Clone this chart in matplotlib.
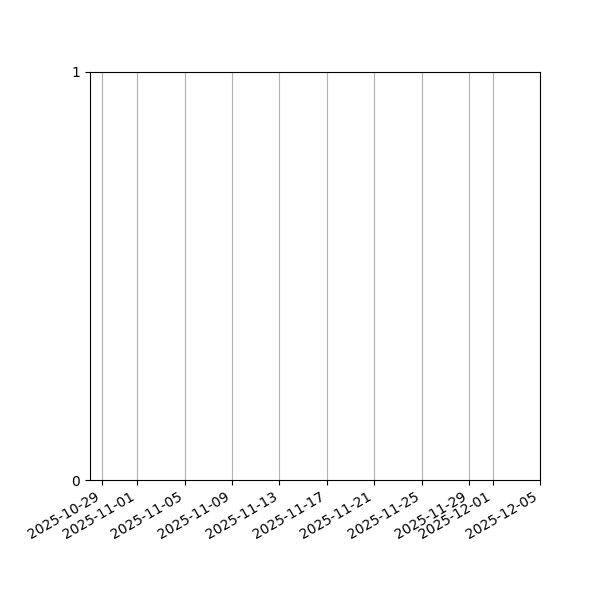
import matplotlib
matplotlib.use("Agg")
import matplotlib.pyplot as plt
import matplotlib.dates as mdates
import numpy as np
from datetime import datetime

# Data
x_start = "2025-10-28"
x_end = "2025-12-05"
tick_dates = ["2025-10-29", "2025-11-01", "2025-11-05", "2025-11-09",
              "2025-11-13", "2025-11-17", "2025-11-21", "2025-11-25",
              "2025-11-29", "2025-12-01", "2025-12-05"]
y_ticks = [0, 1]

fig = plt.figure(figsize=(6, 6), dpi=100)
ax = fig.add_axes([0.15, 0.2, 0.75, 0.68])

to_dt = lambda s: datetime.strptime(s, "%Y-%m-%d")
ax.set_xlim(to_dt(x_start), to_dt(x_end))
ax.set_ylim(0, 1)
ax.set_xticks([to_dt(d) for d in tick_dates])
ax.xaxis.set_major_formatter(mdates.DateFormatter("%Y-%m-%d"))
ax.set_yticks(y_ticks)
ax.grid(True, axis="x")
for lbl in ax.get_xticklabels():
    lbl.set_rotation(30)
    lbl.set_ha("right")

fig.savefig("out.png", dpi=100)
